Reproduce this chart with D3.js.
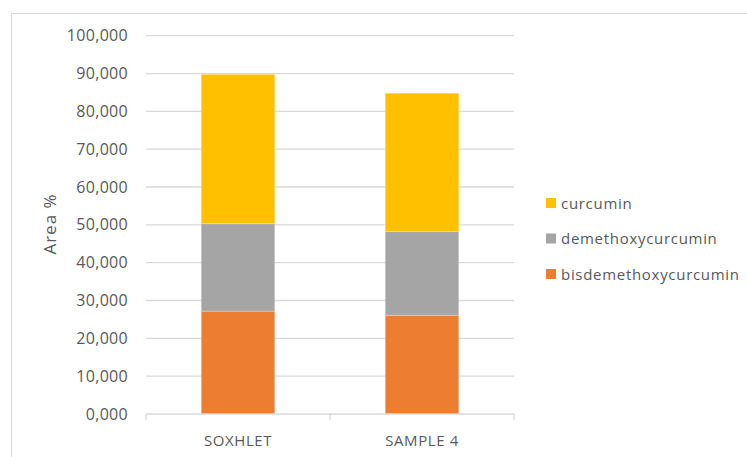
<!DOCTYPE html>
<html>
<head>
<meta charset="utf-8">
<script src="https://cdn.jsdelivr.net/npm/d3@7"></script>
<style>
  body { margin: 0; background: #fff; }
  text { font-family: "Open Sans", "Liberation Sans", sans-serif; fill: #595959; }
</style>
</head>
<body>
<div id="chart"></div>
<script>
// data (Area %)
var categories = ["SOXHLET", "SAMPLE 4"];
var seriesNames = ["bisdemethoxycurcumin", "demethoxycurcumin", "curcumin"];
var bisdemethoxycurcumin = [27.2, 26.1];
var demethoxycurcumin = [23.1, 22.1];
var curcumin = [39.5, 36.6];
var yTicks = [0, 10, 20, 30, 40, 50, 60, 70, 80, 90, 100];
var colors = ["#ED7D31", "#A5A5A5", "#FFC000"];

var width = 747, height = 457;
var plot = { left: 146, right: 514, top: 35.7, bottom: 414 };

var svg = d3.select("#chart")
  .append("svg")
    .attr("width", width)
    .attr("height", height);

// chart area border
svg.append("rect")
  .attr("x", 11.5).attr("y", 13.5)
  .attr("width", 760).attr("height", 460)
  .attr("fill", "none")
  .attr("stroke", "#D9D9D9");

var x = d3.scaleBand()
  .domain(categories)
  .range([plot.left, plot.right])
  .paddingInner(0.6)
  .paddingOuter(0.3);

var y = d3.scaleLinear()
  .domain([0, 100])
  .range([plot.bottom, plot.top]);

var locale = d3.formatLocale({ decimal: ",", thousands: ".", grouping: [3], currency: ["", ""] });
var fmt = locale.format(".3f");

// gridlines
svg.append("g")
  .selectAll("line")
  .data(yTicks.slice(1))
  .enter()
  .append("line")
    .attr("x1", plot.left).attr("x2", plot.right)
    .attr("y1", function(d) { return y(d); })
    .attr("y2", function(d) { return y(d); })
    .attr("stroke", "#D9D9D9")
    .attr("stroke-width", 1.3);

// stacked bars
var rows = categories.map(function(c, i) {
  return { cat: c, bisdemethoxycurcumin: bisdemethoxycurcumin[i], demethoxycurcumin: demethoxycurcumin[i], curcumin: curcumin[i] };
});
var stacked = d3.stack().keys(seriesNames)(rows);

svg.append("g")
  .selectAll("g")
  .data(stacked)
  .enter()
  .append("g")
    .attr("fill", function(d, i) { return colors[i]; })
  .selectAll("rect")
  .data(function(d) { return d; })
  .enter()
  .append("rect")
    .attr("x", function(d) { return x(d.data.cat); })
    .attr("width", x.bandwidth())
    .attr("y", function(d) { return y(d[1]); })
    .attr("height", function(d) { return y(d[0]) - y(d[1]); })
    .attr("stroke", "#fff")
    .attr("stroke-opacity", 0.35)
    .attr("stroke-width", 0.8);

// y axis labels
var yAxis = d3.axisLeft(y).tickValues(yTicks).tickFormat(fmt).tickSize(0).tickPadding(18);
var gy = svg.append("g").attr("transform", "translate(" + plot.left + ",0)").call(yAxis);
gy.select(".domain").remove();
gy.selectAll("text")
  .style("font-size", "16px")
  .style("letter-spacing", "0.3px")
  .attr("fill", "#595959")
  .attr("font-family", null);

// x axis
var gx = svg.append("g")
  .attr("transform", "translate(0," + plot.bottom + ")");
gx.append("line")
  .attr("x1", plot.left).attr("x2", plot.right)
  .attr("stroke", "#D9D9D9").attr("stroke-width", 1.3);
var step = x.step();
var tickXs = [plot.left].concat(categories.map(function(c) { return x(c) + x.bandwidth() / 2 + step / 2; }));
gx.selectAll(".tk")
  .data(tickXs)
  .enter()
  .append("line")
    .attr("class", "tk")
    .attr("x1", function(d) { return d; }).attr("x2", function(d) { return d; })
    .attr("y1", 0).attr("y2", 6)
    .attr("stroke", "#D9D9D9").attr("stroke-width", 1.3);
gx.selectAll(".lbl")
  .data(categories)
  .enter()
  .append("text")
    .attr("class", "lbl")
    .attr("x", function(d) { return x(d) + x.bandwidth() / 2; })
    .attr("y", 32)
    .attr("text-anchor", "middle")
    .style("font-size", "15px")
    .style("letter-spacing", "0.6px")
    .text(function(d) { return d; });

// y axis title
svg.append("text")
  .attr("transform", "translate(56,224) rotate(-90)")
  .attr("text-anchor", "middle")
  .style("font-size", "17px")
  .style("letter-spacing", "1px")
  .text("Area %");

// legend (top to bottom: curcumin first)
var legendItems = seriesNames.map(function(n, i) { return { name: n, color: colors[i] }; }).reverse();
var lg = svg.append("g")
  .selectAll("g")
  .data(legendItems)
  .enter()
  .append("g")
    .attr("transform", function(d, i) { return "translate(546," + (203 + i * 35.5) + ")"; });
lg.append("rect")
  .attr("x", 0).attr("y", -5)
  .attr("width", 10).attr("height", 10)
  .attr("fill", function(d) { return d.color; });
lg.append("text")
  .attr("x", 15).attr("y", 5.5)
  .style("font-size", "15px")
  .style("letter-spacing", "0.7px")
  .text(function(d) { return d.name; });
</script>
</body>
</html>
